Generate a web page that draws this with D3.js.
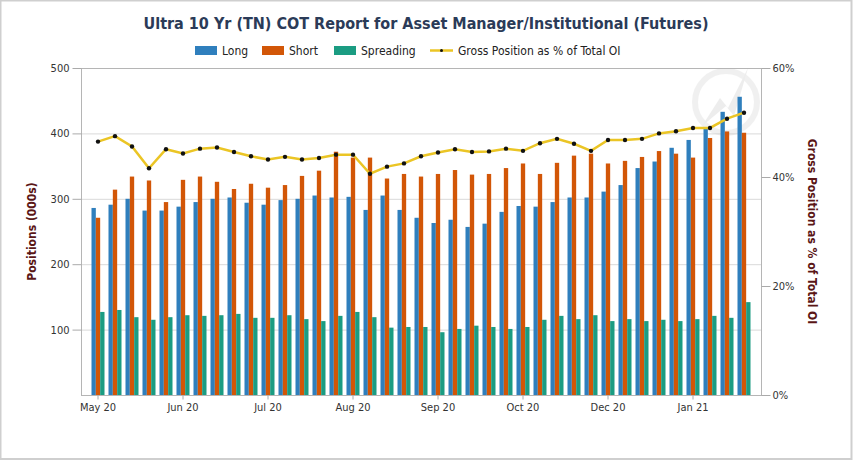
<!DOCTYPE html>
<html>
<head>
<meta charset="utf-8">
<script src="https://cdn.jsdelivr.net/npm/d3@7"></script>
<style>
  body { margin: 0; background: #fff; }
  svg text { font-family: Tahoma, "DejaVu Sans Condensed", "Liberation Sans", sans-serif; }
</style>
</head>
<body>
<div id="chart"></div>
<script>
// weekly report dates
const dates = [
  "2020-05-05", "2020-05-12", "2020-05-19", "2020-05-26",
  "2020-06-02", "2020-06-09", "2020-06-16", "2020-06-23", "2020-06-30",
  "2020-07-07", "2020-07-14", "2020-07-21", "2020-07-28",
  "2020-08-04", "2020-08-11", "2020-08-18", "2020-08-25",
  "2020-09-01", "2020-09-08", "2020-09-15", "2020-09-22", "2020-09-29",
  "2020-10-06", "2020-10-13", "2020-10-20", "2020-10-27",
  "2020-11-03", "2020-11-10", "2020-11-17", "2020-11-24",
  "2020-12-01", "2020-12-08", "2020-12-15", "2020-12-22", "2020-12-29",
  "2021-01-05", "2021-01-12", "2021-01-19", "2021-01-26"
];
const longPos = [286, 291, 300, 282, 282, 288, 295, 300, 302, 294, 291, 298, 300,
  305, 302, 303, 283, 305, 283, 271, 263, 268, 257, 262, 280, 289, 288,
  295, 302, 302, 311, 321, 347, 357, 378, 390, 409, 433, 456];
const shortPos = [271, 314, 334, 328, 295, 329, 334, 326, 315, 323, 317, 321, 335,
  343, 372, 363, 363, 331, 338, 334, 338, 344, 337, 338, 347, 354, 338,
  355, 366, 369, 354, 358, 364, 373, 369, 363, 393, 403, 401];
const spreadPos = [127, 130, 119, 115, 119, 122, 121, 122, 124, 118, 118, 122, 116,
  113, 121, 127, 119, 103, 104, 104, 96, 101, 106, 104, 101, 104, 115,
  121, 116, 122, 113, 116, 113, 115, 113, 116, 121, 118, 142];
const grossPct = [46.5, 47.5, 45.6, 41.6, 45.1, 44.3, 45.2, 45.4, 44.6, 43.8, 43.2, 43.7, 43.2,
  43.5, 44.1, 44.1, 40.6, 41.9, 42.5, 43.8, 44.5, 45.1, 44.6, 44.7, 45.2, 44.8, 46.2,
  47.0, 46.1, 44.8, 46.8, 46.8, 47.0, 48.0, 48.4, 49.0, 49.0, 50.7, 51.8];
const leftTicks = [100, 200, 300, 400, 500];
const rightTicks = [0, 20, 40, 60];
const seriesNames = ["Long", "Short", "Spreading"];
const seriesKeys = ["long", "short", "spread"];

const colors = { long: "#2f7fbd", short: "#d25607", spread: "#1b9c82", line: "#ebc525" };

const width = 853;
const height = 460;
const plot = { left: 81, right: 761, top: 68, bottom: 395 };

const parse = d3.timeParse("%Y-%m-%d");
const rows = dates.map((d, i) => ({
  date: d,
  long: longPos[i],
  short: shortPos[i],
  spread: spreadPos[i],
  pct: grossPct[i]
}));

const svg = d3
  .select("#chart")
  .append("svg")
  .attr("width", width)
  .attr("height", height);

svg
  .append("rect")
  .attr("x", 0.5)
  .attr("y", 0.5)
  .attr("width", 851)
  .attr("height", 458.5)
  .attr("fill", "#fff")
  .attr("stroke", "#cfcfcf")
  .attr("stroke-width", 2);

const x = d3
  .scaleBand()
  .domain(dates)
  .range([plot.left, plot.right])
  .paddingOuter(0.5)
  .paddingInner(0);

const xInner = d3.scaleBand().domain(seriesKeys).range([2, 15]);

const y = d3.scaleLinear().domain([0, 500]).range([plot.bottom, plot.top]);
const yPct = d3.scaleLinear().domain([0, 60]).range([plot.bottom, plot.top]);

// gridlines
svg
  .append("g")
  .selectAll("line")
  .data(leftTicks)
  .enter()
  .append("line")
  .attr("x1", plot.left)
  .attr("x2", plot.right)
  .attr("y1", (d) => y(d) + 0.5)
  .attr("y2", (d) => y(d) + 0.5)
  .attr("stroke", "#d9d9d9");

// watermark
const wm = svg.append("g").attr("transform", "translate(726,102)").attr("opacity", 0.22);
wm.append("circle").attr("r", 31).attr("fill", "none").attr("stroke", "#c0c0c0").attr("stroke-width", 6);
wm.append("path")
  .attr("d", "M-24,24 L-6,-4 L2,6 L22,-34 L8,14 L0,4 Z")
  .attr("fill", "#b0b0b0");

// bars
const groups = svg
  .append("g")
  .selectAll("g")
  .data(rows)
  .enter()
  .append("g")
  .attr("transform", (d) => `translate(${x(d.date)},0)`);

groups
  .selectAll("rect")
  .data((d) => seriesKeys.map((k) => ({ key: k, value: d[k] })))
  .enter()
  .append("rect")
  .attr("x", (d) => xInner(d.key))
  .attr("width", xInner.bandwidth())
  .attr("y", (d) => y(d.value))
  .attr("height", (d) => y(0) - y(d.value))
  .attr("fill", (d) => colors[d.key]);

// plot frame
svg
  .append("rect")
  .attr("x", plot.left + 0.5)
  .attr("y", plot.top + 0.5)
  .attr("width", plot.right - plot.left)
  .attr("height", plot.bottom - plot.top)
  .attr("fill", "none")
  .attr("stroke", "#b5b5b5");

// gross position line
const line = d3
  .line()
  .x((d) => x(d.date) + x.bandwidth() / 2)
  .y((d) => yPct(d.pct));

svg
  .append("path")
  .datum(rows)
  .attr("d", line)
  .attr("fill", "none")
  .attr("stroke", colors.line)
  .attr("stroke-width", 2.5);

svg
  .append("g")
  .selectAll("circle")
  .data(rows)
  .enter()
  .append("circle")
  .attr("cx", (d) => x(d.date) + x.bandwidth() / 2)
  .attr("cy", (d) => yPct(d.pct))
  .attr("r", 2.2)
  .attr("fill", "#111");

// axes
function styleAxis(g) {
  g.select(".domain").remove();
  g.selectAll(".tick line").attr("stroke", "#aaa");
  g.selectAll(".tick text").attr("fill", "#333").style("font-size", "11px");
}

svg
  .append("g")
  .attr("transform", `translate(${plot.left + 0.5},0)`)
  .call(d3.axisLeft(y).tickValues(leftTicks).tickSize(9).tickPadding(3))
  .call(styleAxis);

svg
  .append("g")
  .attr("transform", `translate(${plot.right + 0.5},0)`)
  .call(
    d3.axisRight(yPct)
      .tickValues(rightTicks)
      .tickSize(9)
      .tickPadding(2)
      .tickFormat((d) => d + "%")
  )
  .call(styleAxis);

const fmt = d3.timeFormat("%b %y");
svg
  .append("g")
  .attr("transform", `translate(0,${plot.bottom + 0.5})`)
  .call(
    d3.axisBottom(x)
      .tickValues(dates.filter((d, i) => i % 5 === 0))
      .tickSize(4)
      .tickPadding(4)
      .tickFormat((d) => fmt(parse(d)))
  )
  .call(styleAxis);

// axis titles
svg
  .append("text")
  .attr("transform", `translate(36,${(plot.top + plot.bottom) / 2}) rotate(-90)`)
  .attr("text-anchor", "middle")
  .attr("fill", "#5a1616")
  .style("font-size", "12px")
  .style("font-weight", "bold")
  .text("Positions (000s)");

svg
  .append("text")
  .attr("transform", `translate(808,${(plot.top + plot.bottom) / 2}) rotate(90)`)
  .attr("text-anchor", "middle")
  .attr("fill", "#5a1616")
  .style("font-size", "12px")
  .style("font-weight", "bold")
  .text("Gross Position as % of Total OI");

// title
svg
  .append("text")
  .attr("x", 426)
  .attr("y", 29)
  .attr("text-anchor", "middle")
  .attr("fill", "#2b3b58")
  .style("font-size", "16px")
  .style("font-weight", "bold")
  .text("Ultra 10 Yr (TN) COT Report for Asset Manager/Institutional (Futures)");

// legend
const legendX = [195, 262, 334];
seriesKeys.forEach((k, i) => {
  svg
    .append("rect")
    .attr("x", legendX[i])
    .attr("y", 46)
    .attr("width", 22)
    .attr("height", 9)
    .attr("fill", colors[k]);
  svg
    .append("text")
    .attr("x", legendX[i] + 27)
    .attr("y", 55)
    .attr("fill", "#222")
    .style("font-size", "12px")
    .text(seriesNames[i]);
});

svg
  .append("line")
  .attr("x1", 430)
  .attr("x2", 453)
  .attr("y1", 50.5)
  .attr("y2", 50.5)
  .attr("stroke", colors.line)
  .attr("stroke-width", 2.5);
svg
  .append("circle")
  .attr("cx", 441.5)
  .attr("cy", 50.5)
  .attr("r", 1.5)
  .attr("fill", "#111");
svg
  .append("text")
  .attr("x", 458)
  .attr("y", 55)
  .attr("fill", "#222")
  .style("font-size", "12px")
  .text("Gross Position as % of Total OI");
</script>
</body>
</html>
